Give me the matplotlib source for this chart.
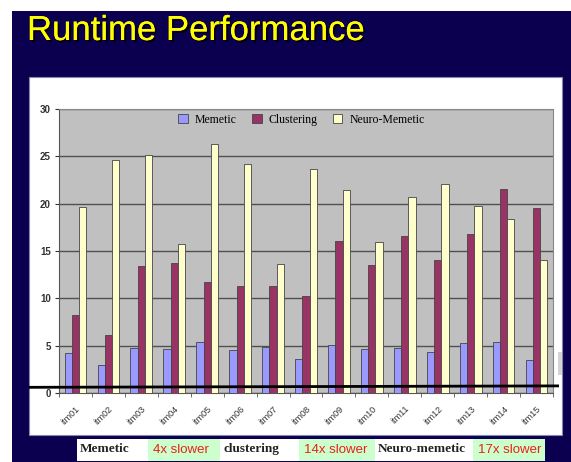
import matplotlib.pyplot as plt
import matplotlib.patheffects as pe
from matplotlib.patches import Rectangle
import numpy as np

# data
items = ['itm01', 'itm02', 'itm03', 'itm04', 'itm05', 'itm06', 'itm07', 'itm08',
         'itm09', 'itm10', 'itm11', 'itm12', 'itm13', 'itm14', 'itm15']
memetic = [4.2, 3.0, 4.8, 4.6, 5.4, 4.5, 4.9, 3.6, 5.1, 4.7, 4.8, 4.3, 5.3, 5.4, 3.5]
clustering = [8.2, 6.1, 13.4, 13.7, 11.7, 11.3, 11.3, 10.2, 16.1, 13.5, 16.6, 14.1, 16.8, 21.5, 19.5]
neuro = [19.6, 24.6, 25.1, 15.7, 26.3, 24.2, 13.6, 23.7, 21.4, 15.9, 20.7, 22.1, 19.8, 18.4, 14.1]
series_names = ['Memetic', 'Clustering', 'Neuro-Memetic']
series_colors = ['#9999ff', '#993366', '#ffffcc']
baseline_y = [0.6, 0.75]   # the hand-drawn black line near zero

summary = [('Memetic', False), ('4x slower', True), ('clustering', False),
           ('14x slower', True), ('Neuro-memetic', False), ('17x slower', True)]

W, H = 571, 462
fig = plt.figure(figsize=(W / 100, H / 100), dpi=100)
fig.patch.set_facecolor('white')

def fx(px):
    return px / W

def fy(py):
    return 1 - py / H

# navy slide background
fig.patches.append(Rectangle((fx(12), 0), 1 - fx(12), fy(11), transform=fig.transFigure,
                             facecolor='#0b0050', edgecolor='none', zorder=-3))
# white chart box
fig.patches.append(Rectangle((fx(29), fy(435)), fx(562 - 29), (435 - 77) / H,
                             transform=fig.transFigure, facecolor='white',
                             edgecolor='#8888aa', lw=0.8, zorder=-2))
# little grey leftover at the right edge of the box
fig.patches.append(Rectangle((fx(558), fy(375)), fx(4), 23 / H, transform=fig.transFigure,
                             facecolor='#d4d4d4', edgecolor='none', zorder=-1))

fig.text(fx(27), fy(14), 'Runtime Performance', color='#ffff00', fontsize=25,
         family='Liberation Sans', va='top', ha='left',
         path_effects=[pe.withSimplePatchShadow(offset=(1.5, -1.5), shadow_rgbFace='#000000', alpha=0.8),
                       pe.Normal()])

ax = fig.add_axes([fx(59), fy(393), fx(553 - 59), (393 - 109) / H])
ax.set_facecolor('#c0c0c0')
x = np.arange(len(items))
bw = 0.22
for i, (vals, name, col) in enumerate(zip([memetic, clustering, neuro], series_names, series_colors)):
    ax.bar(x + (i - 1) * bw, vals, bw, color=col, edgecolor='#444444', linewidth=0.6,
           label=name, zorder=3)

ax.set_xlim(-0.5, len(items) - 0.5)
ax.set_ylim(0, 30)
ax.set_yticks(range(0, 31, 5))
ax.yaxis.grid(True, color='#505050', lw=1)
ax.set_axisbelow(True)
for s in ax.spines.values():
    s.set_color('#888888')
ax.spines['left'].set_color('#555555')
ax.spines['bottom'].set_color('#555555')
ax.tick_params(axis='y', labelsize=7, colors='#333333', length=3, pad=3)
for t in ax.get_yticklabels():
    t.set_fontweight('bold')
    t.set_family('Liberation Sans')
ax.set_xticks(x)
ax.set_xticklabels(items, rotation=45, ha='right', rotation_mode='anchor',
                   fontsize=6.5, family='Liberation Sans', color='#333333')
ax.tick_params(axis='x', length=0, pad=8)
ax.set_xticks(np.arange(-0.5, len(items), 1), minor=True)
ax.tick_params(axis='x', which='minor', length=3, color='#555555')

# black line drawn over the chart
ax.plot([-1.38, 14.64], baseline_y, color='black', lw=2, clip_on=False, zorder=5)

leg = ax.legend(loc='upper center', bbox_to_anchor=(0.491, 1.02), ncol=3, frameon=False,
                prop={'family': 'Liberation Serif', 'size': 8.5}, handlelength=0.8,
                handleheight=0.8, columnspacing=1.3, handletextpad=0.6)

# summary strip under the chart
edges = [77, 148, 220, 299, 375, 473, 545]
for (label, is_rate), x0, x1 in zip(summary, edges[:-1], edges[1:]):
    fig.patches.append(Rectangle((fx(x0), fy(461)), fx(x1 - x0), 22 / H, transform=fig.transFigure,
                                 facecolor='#ccffcc' if is_rate else 'white', edgecolor='none', zorder=2))
    if is_rate:
        fig.text(fx(x0 + 5), fy(450), label, color='#e8201a', fontsize=9.5, family='Liberation Sans',
                 va='center', ha='left', zorder=3)
    else:
        fig.text(fx(x0 + 3), fy(449), label, color='#222222', fontsize=9.5, family='Liberation Serif',
                 fontweight='bold', va='center', ha='left', zorder=3)

fig.savefig('out.png', dpi=100)
